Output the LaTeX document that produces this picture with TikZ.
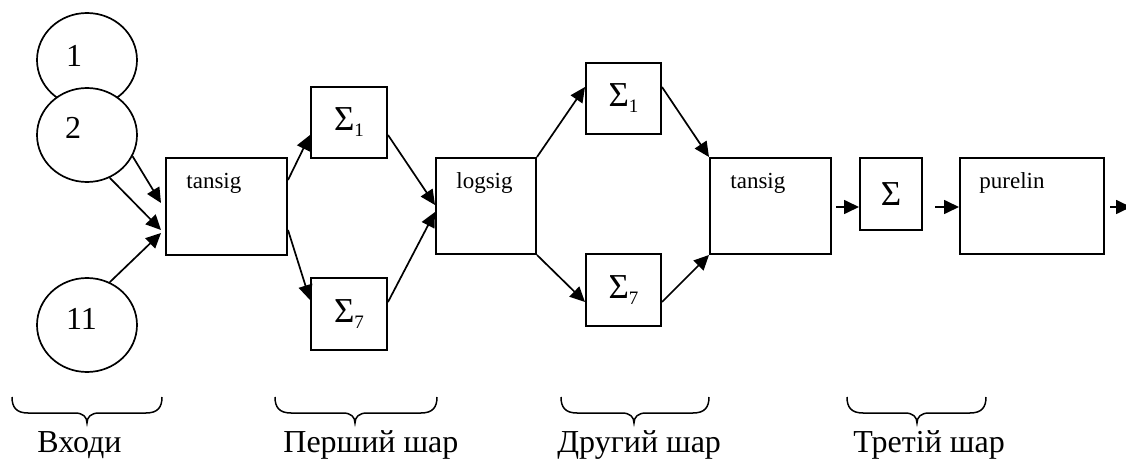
\documentclass[tikz,border=0pt]{standalone}
\usepackage{fontspec}
\setmainfont{Liberation Serif}
\usetikzlibrary{arrows.meta,shapes.geometric}
\newcommand{\sgsub}[1]{\raisebox{-3pt}{\fontsize{9.5}{10}\selectfont #1}}
\newcommand{\mybrace}[3]{%
 \draw[bracestyle] (#1,397) .. controls (#1,407) and (#1+4,413) .. (#1+16,413)
   -- (#2-12,413) .. controls (#2-4,413) and (#2,417) .. (#2,423)
   .. controls (#2,417) and (#2+4,413) .. (#2+12,413)
   -- (#3-16,413) .. controls (#3-4,413) and (#3,407) .. (#3,397);}
\begin{document}
\begin{tikzpicture}[x=0.5pt,y=-0.5pt,
  inp/.style={ellipse, draw, line width=0.85pt, fill=white, minimum width=50pt, minimum height=47pt, inner sep=0pt},
  blk/.style={rectangle, draw, line width=1pt, inner sep=0pt},
  sigbox/.style={blk, font=\fontsize{17.5}{20}\selectfont},
  arr/.style={-{Triangle[length=7.5pt,width=7pt]}, line width=0.85pt},
  smalltext/.style={font=\fontsize{11.5}{12}\selectfont, inner sep=0pt, anchor=base west},
  bigtext/.style={font=\fontsize{16}{18}\selectfont, inner sep=0pt},
  bracestyle/.style={line width=0.75pt}]
\useasboundingbox (0,0) rectangle (1126,460);
% inputs
\node[inp] (c1) at (87,60) {};
\node[inp] (c2) at (87,135) {};
\node[inp] (c11) at (87,325) {};
\node[bigtext] (n1) at ([shift={(-13,-4)}]c1.center) {1};
\node[bigtext] (n2) at ([shift={(-14,-7)}]c2.center) {2};
\node[bigtext] (n11) at ([shift={(-5.5,-6)}]c11.center) {11};
% blocks
\node[blk, minimum width=60.5pt, minimum height=48.5pt] (t1) at (226.5,206.5) {};
\node[sigbox, minimum width=38pt, minimum height=35.5pt] (a1) at (349,122.5) {Σ\sgsub{1}};
\node[sigbox, minimum width=38pt, minimum height=36pt] (a7) at (349,314) {Σ\sgsub{7}};
\node[blk, minimum width=50pt, minimum height=48pt] (lg) at (486,206) {};
\node[sigbox, minimum width=37.5pt, minimum height=35.5pt] (b1) at (623.5,98.5) {Σ\sgsub{1}};
\node[sigbox, minimum width=37.5pt, minimum height=36pt] (b7) at (623.5,290) {Σ\sgsub{7}};
\node[blk, minimum width=60.5pt, minimum height=48pt] (t2) at (770.5,206) {};
\node[sigbox, minimum width=31pt, minimum height=36pt] (sg) at (891,194) {Σ};
\node[blk, minimum width=72pt, minimum height=48pt] (pl) at (1032,206) {};
\coordinate (out) at (1131,207);
% block texts
\node[smalltext] (t1l) at ([shift={(21,32)}]t1.north west) {tansig};
\node[smalltext] (lgl) at ([shift={(21,32)}]lg.north west) {logsig};
\node[smalltext] (t2l) at ([shift={(21,32)}]t2.north west) {tansig};
\node[smalltext] (pll) at ([shift={(20,32)}]pl.north west) {purelin};
% connectors
\draw[arr] (c2.-25) -- ([shift={(-4,-3.5)}]t1.west);
\draw[arr] (c2.-62) -- ([shift={(-4,23.5)}]t1.west);
\draw[arr] (c11.62) -- ([shift={(-4,26.5)}]t1.west);
\draw[arr] ([shift={(0,-26.5)}]t1.east) -- ([shift={(0,12.5)}]a1.west);
\draw[arr] ([shift={(0,23.5)}]t1.east) -- ([shift={(0,-14)}]a7.west);
\draw[arr] ([shift={(0,12.5)}]a1.east) -- ([shift={(0,-1)}]lg.west);
\draw[arr] ([shift={(0,-12)}]a7.east) -- ([shift={(0,6)}]lg.west);
\draw[arr] (lg.north east) -- ([shift={(0,-11.5)}]b1.west);
\draw[arr] (lg.south east) -- ([shift={(0,12)}]b7.west);
\draw[arr] ([shift={(0,-11.5)}]b1.east) -- (t2.north west);
\draw[arr] ([shift={(0,12)}]b7.east) -- (t2.south west);
\draw[arr] ([shift={(4,1)}]t2.east) -- ([shift={(0,13)}]sg.west);
\draw[arr] ([shift={(12,13)}]sg.east) -- ([shift={(0,1)}]pl.west);
\draw[arr] ([shift={(5,1)}]pl.east) -- (out);
% braces
\mybrace{12}{87}{162}
\mybrace{275}{355}{437}
\mybrace{561}{634}{709}
\mybrace{847}{917}{986}
% layer labels
\node[bigtext, anchor=base west] (l1) at (37,452) {Входи};
\node[bigtext, anchor=base west] (l2) at (283,452) {Перший шар};
\node[bigtext, anchor=base west] (l3) at (557,452) {Другий шар};
\node[bigtext, anchor=base west] (l4) at (853,452) {Третій шар};
\end{tikzpicture}
\end{document}
